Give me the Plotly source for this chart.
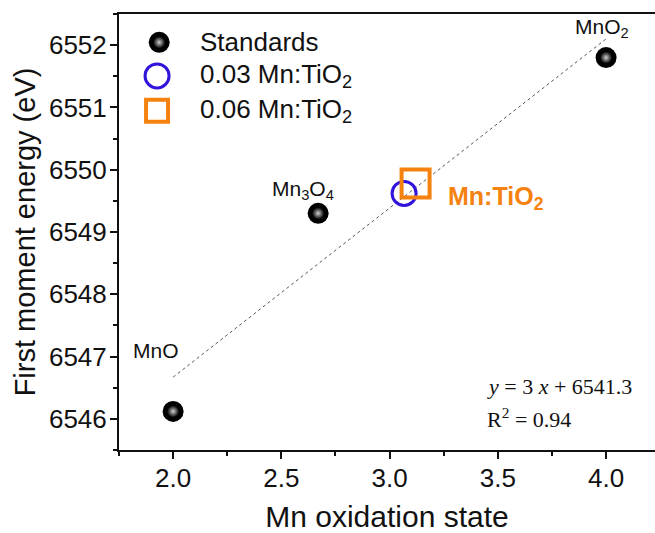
import plotly.graph_objects as go

# ---- data ----
std_names = ["MnO", "Mn<sub>3</sub>O<sub>4</sub>", "MnO<sub>2</sub>"]
std_x = [2.0, 2.67, 4.0]
std_y = [6546.12, 6549.3, 6551.8]

s03_x = [3.067]
s03_y = [6549.62]
s06_x = [3.12]
s06_y = [6549.78]

fit_x = [2.0, 4.0]
fit_y = [6546.67, 6552.1]

# label positions (data coords)
lab_x = [1.92, 2.60, 3.98]
lab_y = [6547.1, 6549.67, 6552.28]

x_ticks = [2.0, 2.5, 3.0, 3.5, 4.0]
y_ticks = [6546, 6547, 6548, 6549, 6550, 6551, 6552]

legend_names = ["Standards", "0.03 Mn:TiO<sub>2</sub>", "0.06 Mn:TiO<sub>2</sub>"]

BLUE = "#3014dc"
ORANGE = "#f5820f"
FONT = "Liberation Sans, Arial, sans-serif"
SERIF = "Liberation Serif, Times New Roman, serif"

fig = go.Figure()

fig.add_trace(go.Scatter(x=fit_x, y=fit_y, mode="lines",
                         line=dict(color="#555555", width=1, dash="dot"),
                         showlegend=False, hoverinfo="skip"))

sphere_base = dict(size=21, color="#000000", symbol="circle", line=dict(width=0))
sphere_hi = dict(size=12, color="#000000", symbol="circle",
                 gradient=dict(type="radial", color="#d0d0d0"), line=dict(width=0))


def add_sphere(xs, ys, **kw):
    fig.add_trace(go.Scatter(x=xs, y=ys, mode="markers", marker=sphere_base,
                             showlegend=False, **kw))
    fig.add_trace(go.Scatter(x=xs, y=ys, mode="markers", marker=sphere_hi,
                             showlegend=False, hoverinfo="skip", **kw))


add_sphere(std_x, std_y)
fig.add_trace(go.Scatter(x=s03_x, y=s03_y, mode="markers",
                         marker=dict(size=24, symbol="circle-open", color=BLUE,
                                     line=dict(width=3, color=BLUE)),
                         showlegend=False))
fig.add_trace(go.Scatter(x=s06_x, y=s06_y, mode="markers",
                         marker=dict(size=28, symbol="square-open", color=ORANGE,
                                     line=dict(width=4, color=ORANGE)),
                         showlegend=False))

# ---- custom legend on an overlay axis (fractions of plot area) ----
leg_sym_x = [0.075, 0.071, 0.071]
leg_y = [0.935, 0.858, 0.778]
leg_txt_x = 0.147
add_sphere([leg_sym_x[0]], [leg_y[0]], xaxis="x2", yaxis="y2")
fig.add_trace(go.Scatter(x=[leg_sym_x[1]], y=[leg_y[1]], xaxis="x2", yaxis="y2",
                         mode="markers",
                         marker=dict(size=24, symbol="circle-open", color=BLUE,
                                     line=dict(width=3, color=BLUE)),
                         showlegend=False, hoverinfo="skip"))
fig.add_trace(go.Scatter(x=[leg_sym_x[2]], y=[leg_y[2]], xaxis="x2", yaxis="y2",
                         mode="markers",
                         marker=dict(size=22, symbol="square-open", color=ORANGE,
                                     line=dict(width=4, color=ORANGE)),
                         showlegend=False, hoverinfo="skip"))

annotations = []
for name, ly in zip(legend_names, leg_y):
    annotations.append(dict(x=leg_txt_x, y=ly, xref="x2", yref="y2", text=name,
                            showarrow=False, xanchor="left", yanchor="middle",
                            font=dict(family=FONT, size=26, color="#111111")))

for name, lx, ly in zip(std_names, lab_x, lab_y):
    annotations.append(dict(x=lx, y=ly, text=name, showarrow=False,
                            xanchor="center", yanchor="middle",
                            font=dict(family=FONT, size=21, color="#111111")))

annotations.append(dict(x=3.26, y=6549.54, text="<b>Mn:TiO<sub>2</sub></b>",
                        showarrow=False, xanchor="left", yanchor="middle",
                        font=dict(family=FONT, size=25, color=ORANGE)))

annotations.append(dict(x=3.44, y=6546.52, text="<i>y</i> = 3 <i>x</i> + 6541.3",
                        showarrow=False, xanchor="left", yanchor="middle",
                        font=dict(family=SERIF, size=22, color="#111111")))
annotations.append(dict(x=3.44, y=6546.02, text="R<sup>2</sup> = 0.94",
                        showarrow=False, xanchor="left", yanchor="middle",
                        font=dict(family=SERIF, size=22, color="#111111")))

fig.update_layout(
    width=655, height=533,
    margin=dict(l=119, r=0, t=14, b=83),
    paper_bgcolor="white", plot_bgcolor="white",
    showlegend=False,
    annotations=annotations,
    xaxis=dict(range=[1.75, 4.226], tickvals=x_ticks,
               ticktext=[f"{v:.1f}" for v in x_ticks],
               automargin=False,
               showgrid=False, zeroline=False,
               showline=True, linecolor="#111111", linewidth=2, mirror=True,
               ticks="outside", ticklen=7, tickwidth=2, tickcolor="#111111",
               minor=dict(dtick=0.25, ticks="outside", ticklen=4, tickwidth=2,
                          tickcolor="#111111", showgrid=False),
               tickfont=dict(family=FONT, size=26, color="#111111"),
               ticklabelstandoff=-3,
               title=dict(text="Mn oxidation state", standoff=16,
                          font=dict(family=FONT, size=30, color="#111111"))),
    yaxis=dict(range=[6545.5, 6552.5], tickvals=y_ticks,
               automargin=False,
               showgrid=False, zeroline=False,
               showline=True, linecolor="#111111", linewidth=2, mirror=False,
               ticks="outside", ticklen=7, tickwidth=2, tickcolor="#111111",
               minor=dict(dtick=0.5, ticks="outside", ticklen=4, tickwidth=2,
                          tickcolor="#111111", showgrid=False),
               tickfont=dict(family=FONT, size=26, color="#111111"),
               ticklabelstandoff=-2,
               title=dict(text="First moment energy (eV)", standoff=5,
                          font=dict(family=FONT, size=29, color="#111111"))),
    xaxis2=dict(overlaying="x", range=[0, 1], visible=False, fixedrange=True),
    yaxis2=dict(overlaying="y", range=[0, 1], visible=False, fixedrange=True),
)

fig.write_html("out.html", config={"displayModeBar": False},
               post_script="document.body.style.margin='0';")
